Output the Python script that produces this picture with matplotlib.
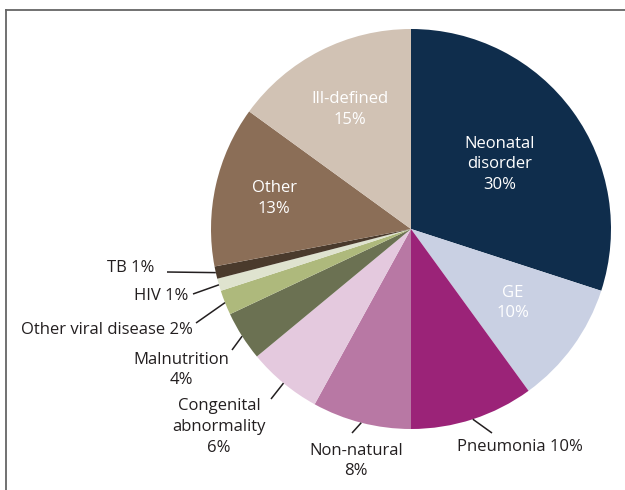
import numpy as np
import matplotlib.pyplot as plt

causes = ["Neonatal\ndisorder", "GE", "Pneumonia", "Non-natural", "Congenital\nabnormality",
          "Malnutrition", "Other viral disease", "HIV", "TB", "Other", "Ill-defined"]
shares = [30, 10, 10, 8, 6, 4, 2, 1, 1, 13, 15]
colors = ["#0f2d4c", "#c9d0e3", "#9b2378", "#b878a4", "#e4c9de", "#6b7152",
          "#aeb97c", "#dfe3cf", "#4a3a2c", "#8b6e57", "#d1c2b4"]

plt.rcParams['font.family'] = ['Open Sans', 'DejaVu Sans']

W, H = 625, 490
fig = plt.figure(figsize=(W / 100, H / 100), dpi=100)
# axes starts at the frame lines (left x=6px, top y=10px)
ax = fig.add_axes([6 / W, 0, (W - 6) / W, (H - 10) / H])
for s in ["right", "bottom"]:
    ax.spines[s].set_visible(False)
for s in ["left", "top"]:
    ax.spines[s].set_color("#666666")
    ax.spines[s].set_linewidth(1.3)


def px(x, y):
    # picture pixel -> data coords
    return x - 6, H - y


cx, cy = px(411, 229)
R = 200
wedges, _ = ax.pie(shares, colors=colors, startangle=90, counterclock=False,
                   center=(cx, cy), radius=R, frame=True)
ax.set_xlim(0, W - 6)
ax.set_ylim(0, H - 10)
ax.set_xticks([])
ax.set_yticks([])

txtcol = "#231f20"
fs = 12
lsp = 1.38

# inside labels: radius fraction
inner = {0: 0.55, 1: 0.63, 9: 0.70, 10: 0.67}
# outside labels: text anchor pixel, line outer end pixel, alignment
outer = {
    2: ((520, 447), (492, 433), "center"),
    3: ((356, 461), (352, 433), "center"),
    4: ((219, 427), (271, 399), "center"),
    5: ((181, 370), (232, 350), "center"),
    6: ((193, 330), (196, 323), "right"),
    7: ((188, 296), (193, 294), "right"),
    8: ((154, 268), (167, 272), "right"),
}

for i, w in enumerate(wedges):
    ang = np.deg2rad((w.theta1 + w.theta2) / 2)
    pct = f"{shares[i]}%"
    if i in inner:
        r = inner[i] * R
        ax.text(cx + r * np.cos(ang), cy + r * np.sin(ang), f"{causes[i]}\n{pct}",
                ha="center", va="center", color="white", fontsize=fs, linespacing=lsp)
    else:
        (tx, ty), (lx, ly), ha = outer[i]
        ex, ey = cx + R * np.cos(ang), cy + R * np.sin(ang)
        lx, ly = px(lx, ly)
        ax.plot([ex, lx], [ey, ly], color="#231f20", lw=1.1, solid_capstyle="butt")
        if ha == "right" or i == 2:
            label = f"{causes[i]} {pct}"
        else:
            label = f"{causes[i]}\n{pct}"
        tx, ty = px(tx, ty)
        ax.text(tx, ty, label, ha=ha, va="center", color=txtcol, fontsize=fs,
                linespacing=lsp)

fig.savefig("out.png", dpi=100)
